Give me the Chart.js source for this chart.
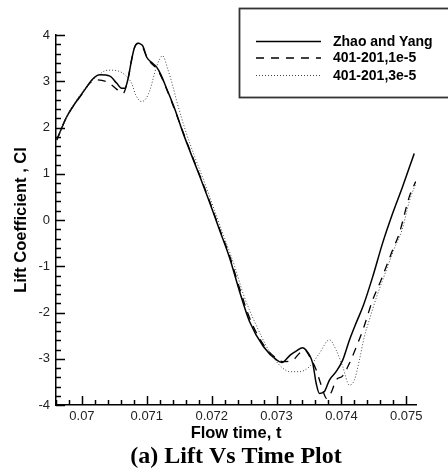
<!DOCTYPE html>
<html>
<head>
<meta charset="utf-8">
<script src="https://cdn.jsdelivr.net/npm/chart.js@4.4.0/dist/chart.umd.min.js"></script>
<style>
  html, body { margin: 0; padding: 0; background: #fff; }
</style>
</head>
<body>
<canvas id="graficoLift" width="448" height="474"></canvas>
<script>
// === DADOS ===
const timeZhao = [0.069611, 0.069765, 0.070020, 0.070174, 0.070277, 0.070431, 0.070534, 0.070611, 0.070662, 0.070712,
  0.070765, 0.070808, 0.070866, 0.070908, 0.070943, 0.070995, 0.071062, 0.071149, 0.071215, 0.071303,
  0.071431, 0.071554, 0.071662, 0.071815, 0.071969, 0.072123, 0.072277, 0.072431, 0.072585, 0.072800,
  0.073005, 0.073082, 0.073211, 0.073308, 0.073400, 0.073446, 0.073558, 0.073611, 0.073662, 0.073738,
  0.073815, 0.073918, 0.074020, 0.074123, 0.074226, 0.074338, 0.074482, 0.074635, 0.074789, 0.074943,
  0.075123];
const liftZhao = [1.73, 2.23, 2.77, 3.06, 3.14, 3.11, 2.96, 2.85, 2.85, 3.06,
  3.46, 3.72, 3.82, 3.80, 3.75, 3.53, 3.42, 3.31, 3.15, 2.85,
  2.40, 1.90, 1.50, 0.95, 0.38, -0.22, -0.82, -1.55, -2.20, -2.74,
  -3.03, -3.08, -2.92, -2.83, -2.76, -2.80, -3.10, -3.53, -3.75, -3.71,
  -3.46, -3.28, -3.03, -2.60, -2.23, -1.85, -1.23, -0.50, 0.14, 0.72,
  1.44];

const time1e5 = [0.069611, 0.069765, 0.070020, 0.070123, 0.070226, 0.070380, 0.070457, 0.070534, 0.070635, 0.070662,
  0.070712, 0.070765, 0.070808, 0.070866, 0.070908, 0.070943, 0.070985, 0.071062, 0.071149, 0.071215,
  0.071303, 0.071431, 0.071554, 0.071662, 0.071815, 0.071969, 0.072123, 0.072277, 0.072431, 0.072585,
  0.072800, 0.073005, 0.073097, 0.073251, 0.073354, 0.073431, 0.073508, 0.073611, 0.073688, 0.073774,
  0.073846, 0.073918, 0.074020, 0.074123, 0.074251, 0.074338, 0.074482, 0.074611, 0.074789, 0.074892,
  0.075046, 0.075145];
const lift1e5 = [1.73, 2.23, 2.76, 2.96, 3.03, 2.99, 2.92, 2.83, 2.74, 2.80,
  3.06, 3.46, 3.72, 3.82, 3.80, 3.72, 3.58, 3.40, 3.28, 3.12,
  2.84, 2.38, 1.92, 1.52, 0.97, 0.40, -0.20, -0.78, -1.48, -2.12,
  -2.70, -3.00, -3.06, -3.03, -2.88, -2.80, -2.95, -3.24, -3.57, -3.86,
  -3.72, -3.46, -3.37, -3.10, -2.67, -2.35, -1.73, -1.30, -0.65, -0.29,
  0.50, 0.83];

const time3e5 = [0.069611, 0.069765, 0.070020, 0.070072, 0.070226, 0.070405, 0.070534, 0.070662, 0.070765, 0.070831,
  0.070918, 0.070985, 0.071046, 0.071149, 0.071242, 0.071328, 0.071400, 0.071457, 0.071611, 0.071738,
  0.071892, 0.072046, 0.072200, 0.072354, 0.072492, 0.072662, 0.072892, 0.073077, 0.073211, 0.073354,
  0.073508, 0.073662, 0.073815, 0.073918, 0.074020, 0.074123, 0.074200, 0.074277, 0.074354, 0.074431,
  0.074543, 0.074662, 0.074815, 0.074938, 0.075046, 0.075150];
const lift3e5 = [1.73, 2.23, 2.80, 2.88, 3.10, 3.24, 3.23, 3.14, 2.96, 2.70,
  2.56, 2.62, 2.80, 3.31, 3.55, 3.24, 2.90, 2.59, 1.87, 1.37,
  0.80, 0.20, -0.40, -1.00, -1.62, -2.20, -2.85, -3.18, -3.28, -3.28,
  -3.17, -2.88, -2.59, -2.81, -3.17, -3.57, -3.46, -3.03, -2.52, -2.16,
  -1.66, -1.20, -0.62, -0.20, 0.40, 0.80];

const seriesLabels = ['Zhao and Yang', '401-201,1e-5', '401-201,3e-5'];
const xTicks = [0.07, 0.071, 0.072, 0.073, 0.074, 0.075];
const yTicks = [-4, -3, -2, -1, 0, 1, 2, 3, 4];

const fonte = "'Liberation Sans', Arial, sans-serif";

function pontos(xs, ys) {
  return xs.map((x, i) => ({ x: x, y: ys[i] }));
}

// tracinhos para dentro do gráfico (maiores e menores)
const ticksInternos = {
  id: 'ticksInternos',
  afterDraw(chart) {
    const { ctx, chartArea, scales } = chart;
    ctx.save();
    ctx.strokeStyle = '#000';
    ctx.lineWidth = 1.5;
    ctx.beginPath();
    for (let i = 348; i <= 375; i++) {
      const px = Math.round(scales.x.getPixelForValue(i * 0.0002)) + 0.5;
      const len = i % 5 === 0 ? 9 : 5;
      ctx.moveTo(px, chartArea.bottom);
      ctx.lineTo(px, chartArea.bottom - len);
    }
    for (let i = -20; i <= 20; i++) {
      const py = Math.round(scales.y.getPixelForValue(i * 0.2)) + 0.5;
      const len = i % 5 === 0 ? 9 : 5;
      ctx.moveTo(chartArea.left, py);
      ctx.lineTo(chartArea.left + len, py);
    }
    ctx.stroke();
    ctx.restore();
  }
};

// legenda desenhada na caixa do canto
const legendaCaixa = {
  id: 'legendaCaixa',
  afterDraw(chart) {
    const ctx = chart.ctx;
    ctx.save();
    ctx.fillStyle = '#fff';
    ctx.fillRect(239.5, 8.5, 220, 89);
    ctx.strokeStyle = '#333';
    ctx.lineWidth = 1.8;
    ctx.strokeRect(239.5, 8.5, 220, 89);
    const linhas = [41, 57.5, 75];
    // ordem da legenda: solida, tracejada, pontilhada
    const ordem = [2, 1, 0];
    ordem.forEach((d, i) => {
      const ds = chart.data.datasets[d];
      ctx.beginPath();
      ctx.setLineDash(ds.borderDash || []);
      ctx.strokeStyle = ds.borderColor;
      ctx.lineWidth = ds.borderWidth;
      ctx.moveTo(256, linhas[i] + 0.5);
      ctx.lineTo(321, linhas[i] + 0.5);
      ctx.stroke();
      ctx.setLineDash([]);
      ctx.fillStyle = '#000';
      ctx.font = 'bold 14px ' + fonte;
      ctx.textBaseline = 'middle';
      ctx.fillText(ds.label, 333, linhas[i] + 1);
    });
    ctx.restore();
  }
};

const ctxLift = document.getElementById('graficoLift').getContext('2d');
new Chart(ctxLift, {
  type: 'scatter',
  data: {
    datasets: [{
      label: seriesLabels[2],
      data: pontos(time3e5, lift3e5),
      showLine: true,
      borderColor: '#444',
      borderWidth: 1,
      borderDash: [1, 2],
      pointRadius: 0,
      cubicInterpolationMode: 'monotone'
    }, {
      label: seriesLabels[1],
      data: pontos(time1e5, lift1e5),
      showLine: true,
      borderColor: '#000',
      borderWidth: 1.3,
      borderDash: [8, 7],
      pointRadius: 0,
      cubicInterpolationMode: 'monotone'
    }, {
      label: seriesLabels[0],
      data: pontos(timeZhao, liftZhao),
      showLine: true,
      borderColor: '#000',
      borderWidth: 1.5,
      pointRadius: 0,
      cubicInterpolationMode: 'monotone'
    }]
  },
  options: {
    responsive: false,
    animation: false,
    layout: { padding: { top: 35, right: 32, left: 0, bottom: 0 } },
    plugins: {
      legend: { display: false },
      tooltip: { enabled: false },
      title: {
        display: true,
        position: 'bottom',
        fullSize: false,
        text: '(a) Lift Vs Time Plot',
        color: '#000',
        font: { family: "'Liberation Serif', 'Times New Roman', serif", size: 24, weight: 'bold', lineHeight: 1 },
        padding: { top: 0, bottom: 5 }
      }
    },
    scales: {
      x: {
        type: 'linear',
        min: 0.0696,
        max: 0.07515,
        grid: { display: false, drawTicks: false },
        border: { display: true, color: '#000', width: 1.5 },
        afterBuildTicks: scale => { scale.ticks = xTicks.map(v => ({ value: v })); },
        afterFit: scale => { scale.height = 40; },
        ticks: {
          padding: 4,
          color: '#222',
          font: { family: fonte, size: 13 },
          callback: v => String(v)
        },
        title: {
          display: true,
          text: 'Flow time, t',
          color: '#000',
          font: { family: fonte, size: 16.5, weight: 'bold', lineHeight: 1 },
          padding: { top: 0, bottom: 3.5 }
        }
      },
      y: {
        type: 'linear',
        min: -4,
        max: 4,
        grid: { display: false, drawTicks: false },
        border: { display: true, color: '#000', width: 1.5 },
        afterBuildTicks: scale => { scale.ticks = yTicks.map(v => ({ value: v })); },
        afterFit: scale => { scale.width = 56; },
        ticks: {
          padding: 6,
          color: '#222',
          font: { family: fonte, size: 13 },
          callback: v => String(v)
        },
        title: {
          display: true,
          text: 'Lift Coefficient , Cl',
          color: '#000',
          font: { family: fonte, size: 16.5, weight: 'bold', lineHeight: 1 },
          padding: { top: 13, bottom: 0 }
        }
      }
    }
  },
  plugins: [ticksInternos, legendaCaixa]
});
</script>
</body>
</html>
